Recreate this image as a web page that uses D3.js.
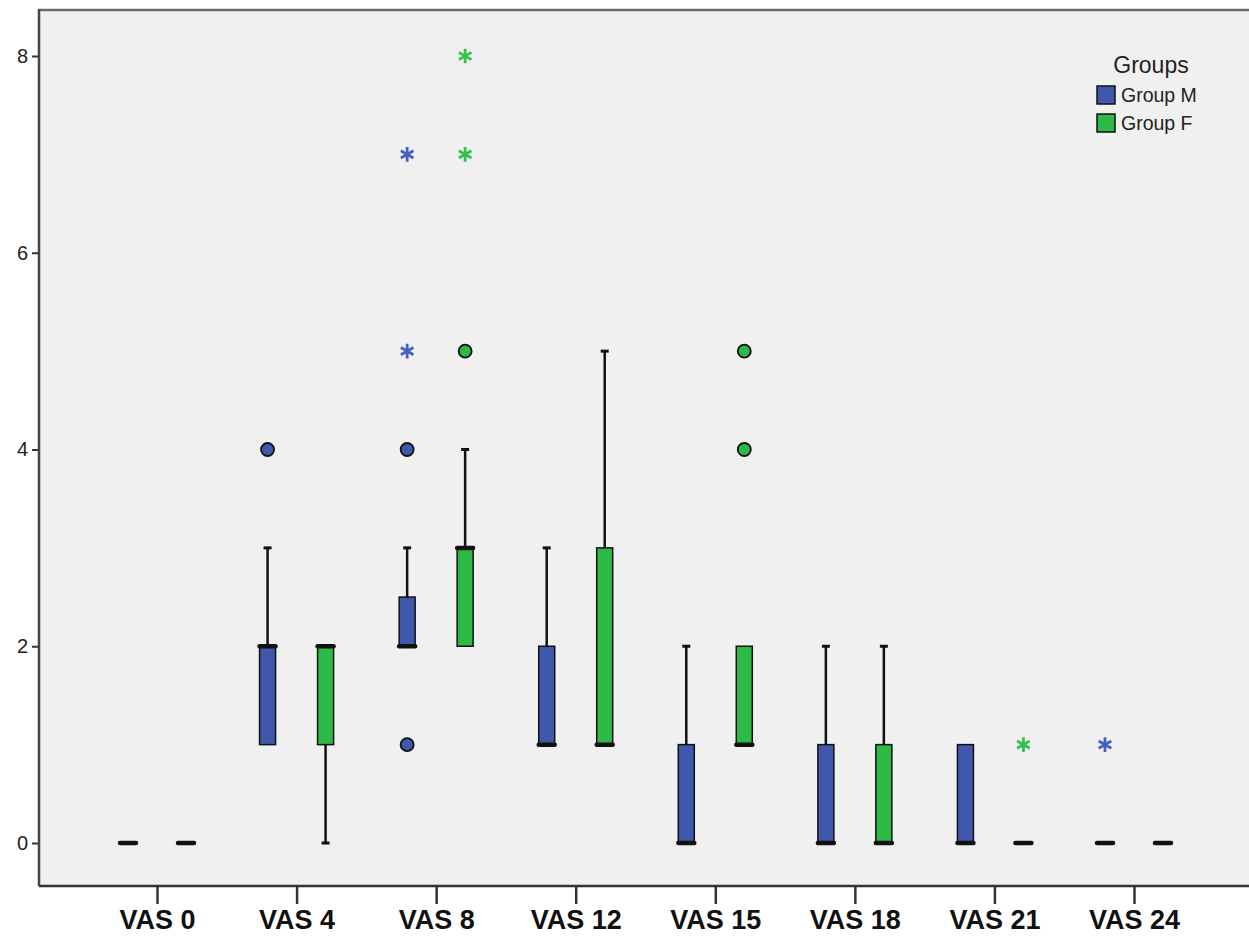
<!DOCTYPE html>
<html>
<head>
<meta charset="utf-8">
<script src="https://cdn.jsdelivr.net/npm/d3@7"></script>
<style>
  body { margin: 0; background: #ffffff; }
  svg { display: block; font-family: "Liberation Sans", Arial, sans-serif; }
</style>
</head>
<body>
<script>
// ---- data ----
const categories = ["VAS 0", "VAS 4", "VAS 8", "VAS 12", "VAS 15", "VAS 18", "VAS 21", "VAS 24"];
const groups = ["Group M", "Group F"];
const groupColors = ["#3F58AB", "#2DB945"];
const starColors = ["#4660C0", "#35C24C"];
const yTicks = [0, 2, 4, 6, 8];

// Group M
const mQ1  = [0, 1, 2,   1, 0, 0, 0, 0];
const mMed = [0, 2, 2,   1, 0, 0, 0, 0];
const mQ3  = [0, 2, 2.5, 2, 1, 1, 1, 0];
const mLo  = [0, 1, 2,   1, 0, 0, 0, 0];
const mHi  = [0, 3, 3,   3, 2, 2, 1, 0];
const mOutliers = [[], [4], [1, 4], [], [], [], [], []];
const mExtremes = [[], [], [5, 7], [], [], [], [], [1]];

// Group F
const fQ1  = [0, 1, 2, 1, 1, 0, 0, 0];
const fMed = [0, 2, 3, 1, 1, 0, 0, 0];
const fQ3  = [0, 2, 3, 3, 2, 1, 0, 0];
const fLo  = [0, 0, 2, 1, 1, 0, 0, 0];
const fHi  = [0, 2, 4, 5, 2, 2, 0, 0];
const fOutliers = [[], [], [5], [], [4, 5], [], [], []];
const fExtremes = [[], [], [7, 8], [], [], [], [1], []];

const series = [
  { q1: mQ1, med: mMed, q3: mQ3, lo: mLo, hi: mHi, out: mOutliers, ext: mExtremes },
  { q1: fQ1, med: fMed, q3: fQ3, lo: fLo, hi: fHi, out: fOutliers, ext: fExtremes }
];

// ---- layout ----
const W = 1249, H = 941;
const plot = { left: 39, top: 10, right: 1249, bottom: 886 };

const svg = d3.select("body").append("svg").attr("width", W).attr("height", H);

const x = d3.scalePoint().domain(categories).range([157, 1134]);
const gx = d3.scalePoint().domain(groups).range([-29, 29]);
const y = d3.scaleLinear().domain([0, 8]).range([843, 56]);
const boxW = 16;

// background
svg.append("rect")
  .attr("x", plot.left).attr("y", plot.top)
  .attr("width", plot.right - plot.left).attr("height", plot.bottom - plot.top)
  .attr("fill", "#f0f0f0");
svg.append("line")
  .attr("x1", plot.left).attr("x2", plot.right)
  .attr("y1", plot.top).attr("y2", plot.top)
  .attr("stroke", "#6a6a6a").attr("stroke-width", 2.5);

// y axis
const yAxis = d3.axisLeft(y).tickValues(yTicks).tickSize(7).tickPadding(4).tickFormat(d3.format("d"));
const ya = svg.append("g").attr("transform", `translate(${plot.left},0)`).call(yAxis);
ya.select(".domain").remove();
ya.selectAll(".tick line").attr("stroke", "#333").attr("stroke-width", 2);
ya.selectAll(".tick text").attr("font-size", 20).attr("fill", "#222")
  .attr("font-family", "Liberation Sans, Arial, sans-serif");
svg.append("line")
  .attr("x1", plot.left).attr("x2", plot.left)
  .attr("y1", plot.top - 1).attr("y2", plot.bottom)
  .attr("stroke", "#444").attr("stroke-width", 2.5);

// x axis
const xAxis = d3.axisBottom(x).tickSize(18).tickPadding(6);
const xa = svg.append("g").attr("transform", `translate(0,${plot.bottom})`).call(xAxis);
xa.select(".domain").remove();
xa.selectAll(".tick line").attr("stroke", "#333").attr("stroke-width", 2.5);
xa.selectAll(".tick text").attr("font-size", 27).attr("font-weight", "bold").attr("fill", "#111")
  .attr("font-family", "Liberation Sans, Arial, sans-serif");
svg.append("line")
  .attr("x1", plot.left).attr("x2", plot.right)
  .attr("y1", plot.bottom).attr("y2", plot.bottom)
  .attr("stroke", "#333").attr("stroke-width", 2.5);

// boxes
series.forEach((s, gi) => {
  const g = svg.append("g");
  const cx = i => x(categories[i]) + gx(groups[gi]);
  categories.forEach((cat, i) => {
    const c = cx(i);
    // whiskers
    if (s.hi[i] > s.q3[i]) {
      g.append("line").attr("x1", c).attr("x2", c)
        .attr("y1", y(s.q3[i])).attr("y2", y(s.hi[i]))
        .attr("stroke", "#111").attr("stroke-width", 2.5);
      g.append("line").attr("x1", c - 4).attr("x2", c + 4)
        .attr("y1", y(s.hi[i])).attr("y2", y(s.hi[i]))
        .attr("stroke", "#111").attr("stroke-width", 3);
    }
    if (s.lo[i] < s.q1[i]) {
      g.append("line").attr("x1", c).attr("x2", c)
        .attr("y1", y(s.q1[i])).attr("y2", y(s.lo[i]))
        .attr("stroke", "#111").attr("stroke-width", 2.5);
      g.append("line").attr("x1", c - 4).attr("x2", c + 4)
        .attr("y1", y(s.lo[i])).attr("y2", y(s.lo[i]))
        .attr("stroke", "#111").attr("stroke-width", 3);
    }
    // box
    if (s.q3[i] > s.q1[i]) {
      g.append("rect")
        .attr("x", c - boxW / 2).attr("y", y(s.q3[i]))
        .attr("width", boxW).attr("height", y(s.q1[i]) - y(s.q3[i]))
        .attr("fill", groupColors[gi]).attr("stroke", "#111").attr("stroke-width", 1.5);
    }
    // median
    g.append("line")
      .attr("x1", c - boxW / 2).attr("x2", c + boxW / 2)
      .attr("y1", y(s.med[i])).attr("y2", y(s.med[i]))
      .attr("stroke", "#111").attr("stroke-width", 4.5).attr("stroke-linecap", "round");
    // outliers (circles)
    s.out[i].forEach(v => {
      g.append("circle").attr("cx", c).attr("cy", y(v)).attr("r", 6.5)
        .attr("fill", groupColors[gi]).attr("stroke", "#111").attr("stroke-width", 1.8);
    });
    // extremes (stars)
    s.ext[i].forEach(v => {
      g.append("path")
        .attr("d", d3.symbol().type(d3.symbolAsterisk).size(150)())
        .attr("transform", `translate(${c},${y(v)})`)
        .attr("fill", "none").attr("stroke", starColors[gi]).attr("stroke-width", 2.8);
    });
  });
});

// legend
const lg = svg.append("g");
lg.append("text").attr("x", 1151).attr("y", 73).attr("text-anchor", "middle")
  .attr("font-size", 23).attr("fill", "#222").text("Groups");
groups.forEach((gname, gi) => {
  const yy = 86 + gi * 28;
  lg.append("rect").attr("x", 1097).attr("y", yy).attr("width", 18).attr("height", 18)
    .attr("fill", groupColors[gi]).attr("stroke", "#111").attr("stroke-width", 1.5);
  lg.append("text").attr("x", 1121).attr("y", yy + 16)
    .attr("font-size", 19.5).attr("fill", "#222").text(gname);
});
</script>
</body>
</html>
